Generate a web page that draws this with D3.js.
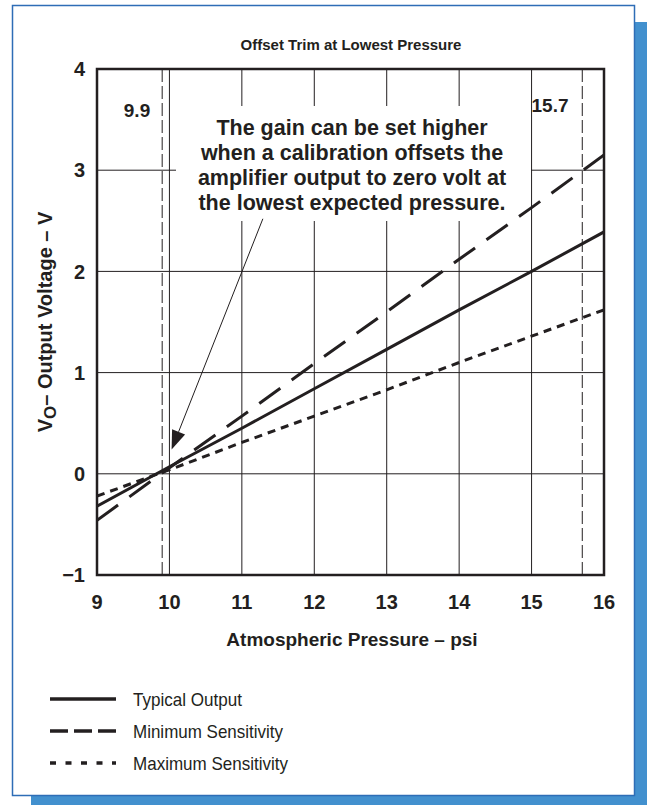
<!DOCTYPE html>
<html><head><meta charset="utf-8">
<script src="https://cdn.jsdelivr.net/npm/d3@7"></script>
<style>
html,body{margin:0;padding:0;background:#fff;}
svg{display:block;font-family:"Liberation Sans",Arial,Helvetica,sans-serif;}
</style></head>
<body>
<script>
const pressures = [9, 10, 11, 12, 13, 14, 15, 16];
const typicalOutput = [-0.32, 0.07, 0.45, 0.84, 1.23, 1.62, 2.0, 2.39];
const minSensitivity = [-0.46, 0.06, 0.57, 1.09, 1.60, 2.12, 2.63, 3.15];
const maxSensitivity = [-0.22, 0.04, 0.31, 0.57, 0.83, 1.10, 1.36, 1.62];
const xTicks = [9, 10, 11, 12, 13, 14, 15, 16];
const yTicks = [-1, 0, 1, 2, 3, 4];
const yTickLabels = ["\u22121", "0", "1", "2", "3", "4"];
const markers = [9.9, 15.7];
const markerLabels = ["9.9", "15.7"];
const seriesNames = ["Typical Output", "Minimum Sensitivity", "Maximum Sensitivity"];
const noteLines = ["The gain can be set higher", "when a calibration offsets the", "amplifier output to zero volt at", "the lowest expected pressure."];

const W = 647, H = 805;
const ink = "#231f20";
const svg = d3.select("body").append("svg").attr("width", W).attr("height", H);

// panel + shadow
svg.append("rect").attr("x", 31).attr("y", 22).attr("width", 616).attr("height", 783).attr("fill", "#4290ce");
svg.append("rect").attr("x", 12.5).attr("y", 5.5).attr("width", 622).attr("height", 790)
  .attr("fill", "#fff").attr("stroke", "#2e6db6").attr("stroke-width", 1.5);

const L = 97, R = 604, T = 69, B = 575;
const x = d3.scaleLinear().domain([9, 16]).range([L, R]);
const y = d3.scaleLinear().domain([-1, 4]).range([B, T]);

// grid
const g = svg.append("g");
g.selectAll("line.vg").data(xTicks).join("line")
  .attr("x1", d => x(d)).attr("x2", d => x(d)).attr("y1", T).attr("y2", B)
  .attr("stroke", ink).attr("stroke-width", 1);
g.selectAll("line.hg").data(yTicks).join("line")
  .attr("x1", L).attr("x2", R).attr("y1", d => y(d)).attr("y2", d => y(d))
  .attr("stroke", ink).attr("stroke-width", 1);

// marker dashed lines
g.selectAll("line.mk").data(markers).join("line")
  .attr("x1", d => x(d)).attr("x2", d => x(d)).attr("y1", T).attr("y2", B)
  .attr("stroke", ink).attr("stroke-width", 1).attr("stroke-dasharray", "13,4");

// annotation background
svg.append("rect").attr("x", 176).attr("y", 106).attr("width", 355).attr("height", 115).attr("fill", "#fff");

// data lines
const line = d3.line().x((d, i) => x(pressures[i])).y(d => y(d));
const series = [
  {vals: typicalOutput, dash: null},
  {vals: minSensitivity, dash: "26,14"},
  {vals: maxSensitivity, dash: "8,6"}
];
svg.append("defs").append("clipPath").attr("id", "clip")
  .append("rect").attr("x", L).attr("y", T).attr("width", R - L).attr("height", B - T);
svg.append("g").attr("clip-path", "url(#clip)").selectAll("path").data(series).join("path")
  .attr("d", d => line(d.vals)).attr("fill", "none").attr("stroke", ink)
  .attr("stroke-width", 3).attr("stroke-dasharray", d => d.dash);

// frame
svg.append("rect").attr("x", L).attr("y", T).attr("width", R - L).attr("height", B - T)
  .attr("fill", "none").attr("stroke", ink).attr("stroke-width", 2.5);

// axes labels
svg.append("g").selectAll("text").data(yTicks).join("text")
  .attr("x", 85).attr("y", d => y(d)).attr("dy", "0.36em").attr("text-anchor", "end")
  .attr("font-size", 20).attr("font-weight", "bold").attr("fill", ink)
  .text((d, i) => yTickLabels[i]);
svg.append("g").selectAll("text").data(xTicks).join("text")
  .attr("x", d => x(d)).attr("y", 609).attr("text-anchor", "middle")
  .attr("font-size", 20).attr("font-weight", "bold").attr("fill", ink)
  .text(d => d);

// marker labels
svg.append("text").attr("x", 137).attr("y", 117).attr("text-anchor", "middle")
  .attr("font-size", 19).attr("font-weight", "bold").attr("fill", ink).text(markerLabels[0]);
svg.append("text").attr("x", 550).attr("y", 112).attr("text-anchor", "middle")
  .attr("font-size", 19).attr("font-weight", "bold").attr("fill", ink).text(markerLabels[1]);

// title
svg.append("text").attr("x", 351).attr("y", 50).attr("text-anchor", "middle")
  .attr("font-size", 15).attr("font-weight", "bold").attr("fill", ink)
  .text("Offset Trim at Lowest Pressure");

// x axis title
svg.append("text").attr("x", 352).attr("y", 646).attr("text-anchor", "middle")
  .attr("font-size", 19).attr("font-weight", "bold").attr("fill", ink)
  .text("Atmospheric Pressure \u2013 psi");

// y axis title
const yt = svg.append("text").attr("transform", "translate(52,322) rotate(-90)").attr("text-anchor", "middle")
  .attr("font-size", 20).attr("font-weight", "bold").attr("fill", ink);
yt.append("tspan").text("V");
yt.append("tspan").attr("font-size", 17).attr("dy", 4).text("O");
yt.append("tspan").attr("dy", -4).text("\u2013 Output Voltage \u2013 V");

// annotation text
svg.append("g").selectAll("text").data(noteLines).join("text")
  .attr("x", 352).attr("y", (d, i) => 135 + i * 25).attr("text-anchor", "middle")
  .attr("font-size", 21.5).attr("font-weight", "bold").attr("fill", ink).text(d => d);

// arrow
const arrowFrom = [11.29, 2.52], arrowTo = [10.03, 0.24];
const x0 = x(arrowFrom[0]), y0 = y(arrowFrom[1]), x1 = x(arrowTo[0]), y1 = y(arrowTo[1]);
const ang = Math.atan2(y1 - y0, x1 - x0);
const hl = 19, hw = 7;
const bx = x1 - hl * Math.cos(ang), by = y1 - hl * Math.sin(ang);
svg.append("line").attr("x1", x0).attr("y1", y0).attr("x2", bx).attr("y2", by)
  .attr("stroke", ink).attr("stroke-width", 1);
svg.append("path").attr("d", d3.line()([
  [x1, y1],
  [bx + hw * Math.sin(ang), by - hw * Math.cos(ang)],
  [bx - hw * Math.sin(ang), by + hw * Math.cos(ang)]
]) + "Z").attr("fill", ink);

// legend
const lg = svg.append("g");
const legendDash = [null, "18,6", "6,9.5"];
const legendTextWidth = [109, 150, 155];
seriesNames.forEach((name, i) => {
  const yy = 699 + i * 32;
  lg.append("line").attr("x1", 50).attr("x2", 116).attr("y1", yy).attr("y2", yy)
    .attr("stroke", ink).attr("stroke-width", 3.5).attr("stroke-dasharray", legendDash[i]);
  lg.append("text").attr("x", 133).attr("y", yy).attr("dy", "0.36em")
    .attr("font-size", 19).attr("fill", ink)
    .attr("textLength", legendTextWidth[i]).attr("lengthAdjust", "spacingAndGlyphs")
    .text(name);
});
</script>
</body></html>
